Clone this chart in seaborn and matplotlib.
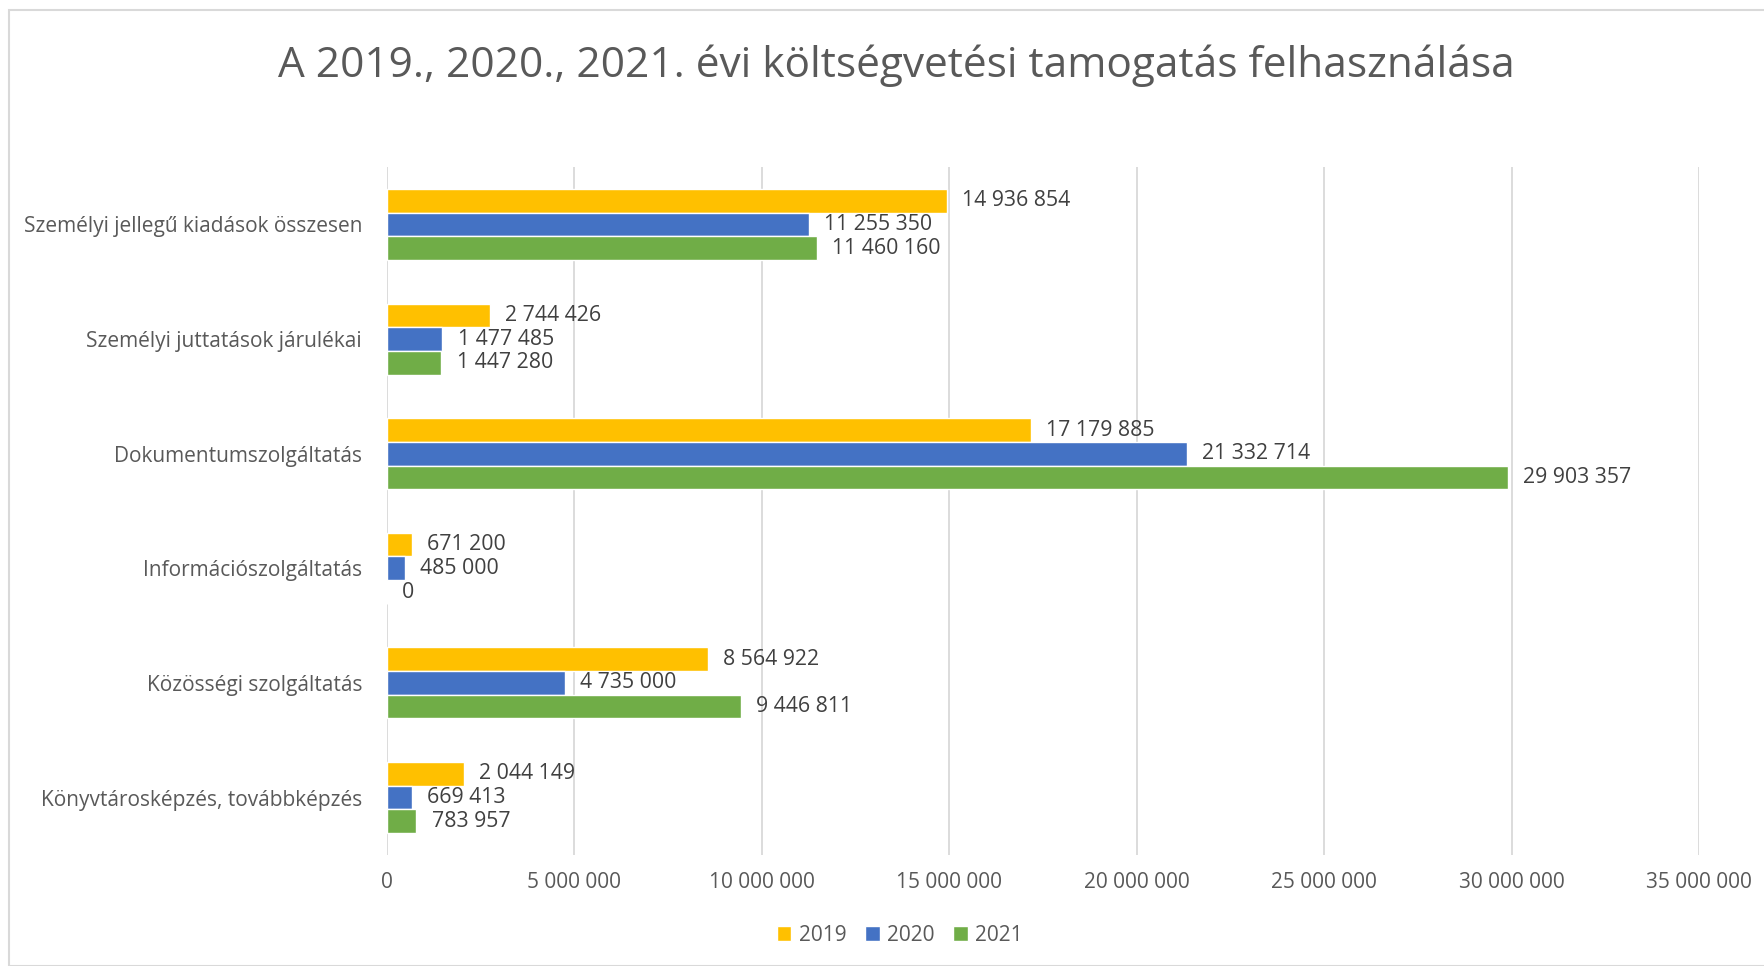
import pandas as pd
import matplotlib.pyplot as plt
import seaborn as sns
from matplotlib.patches import Rectangle

categories = ['Személyi jellegű kiadások összesen', 'Személyi juttatások járulékai',
              'Dokumentumszolgáltatás', 'Információszolgáltatás',
              'Közösségi szolgáltatás', 'Könyvtárosképzés, továbbképzés']
years = ['2019', '2020', '2021']
v2019 = [14936854, 2744426, 17179885, 671200, 8564922, 2044149]
v2020 = [11255350, 1477485, 21332714, 485000, 4735000, 669413]
v2021 = [11460160, 1447280, 29903357, 0, 9446811, 783957]
colors = ['#FFC000', '#4472C4', '#70AD47']

df = pd.DataFrame({'kategoria': categories * 3,
                   'ev': [y for y in years for _ in categories],
                   'ertek': v2019 + v2020 + v2021})

sns.set_theme(style='white')
plt.rcParams['font.family'] = ['Open Sans', 'DejaVu Sans']
txt = '#595959'

fig = plt.figure(figsize=(17.64, 9.66), dpi=100)
ax = fig.add_axes([0.2194, 0.115, 0.7438, 0.712])

sns.barplot(data=df, y='kategoria', x='ertek', hue='ev', hue_order=years,
            palette=colors, orient='h', width=0.62, saturation=1, ax=ax, legend=True)

fmt = lambda v: f'{int(v):,}'.replace(',', ' ')
for cont in ax.containers:
    ax.bar_label(cont, labels=[fmt(b.get_width()) for b in cont], padding=11,
                 fontsize=15.3, color='#404040')

ax.set_xlim(0, 35000000)
ax.set_xticks(range(0, 35000001, 5000000))
ax.set_xticklabels([fmt(t) for t in range(0, 35000001, 5000000)], fontsize=15, color=txt)
ax.tick_params(axis='x', length=0, pad=12)
ax.tick_params(axis='y', length=0, pad=18, labelsize=15, labelcolor=txt)
ax.set_xlabel('')
ax.set_ylabel('')
ax.grid(axis='x', color='#D9D9D9', linewidth=1.3)
ax.set_axisbelow(True)
for s in ax.spines.values():
    s.set_visible(False)

handles, labels = ax.get_legend_handles_labels()
ax.get_legend().remove()
fig.legend(handles, labels, loc='center', bbox_to_anchor=(0.51, 0.032), ncol=3,
           frameon=False, fontsize=15, labelcolor=txt, handlelength=0.7, handleheight=0.7,
           handletextpad=0.35, columnspacing=0.9)

fig.text(0.508, 0.932, 'A 2019., 2020., 2021. évi költségvetési tamogatás felhasználása',
         ha='center', va='center', fontsize=30.5, color=txt)

fig.patches.append(Rectangle((0.005, 0.0), 1.2, 0.99, transform=fig.transFigure,
                             fill=False, edgecolor='#D9D9D9', linewidth=1.5))

fig.savefig('out.png', dpi=100)
